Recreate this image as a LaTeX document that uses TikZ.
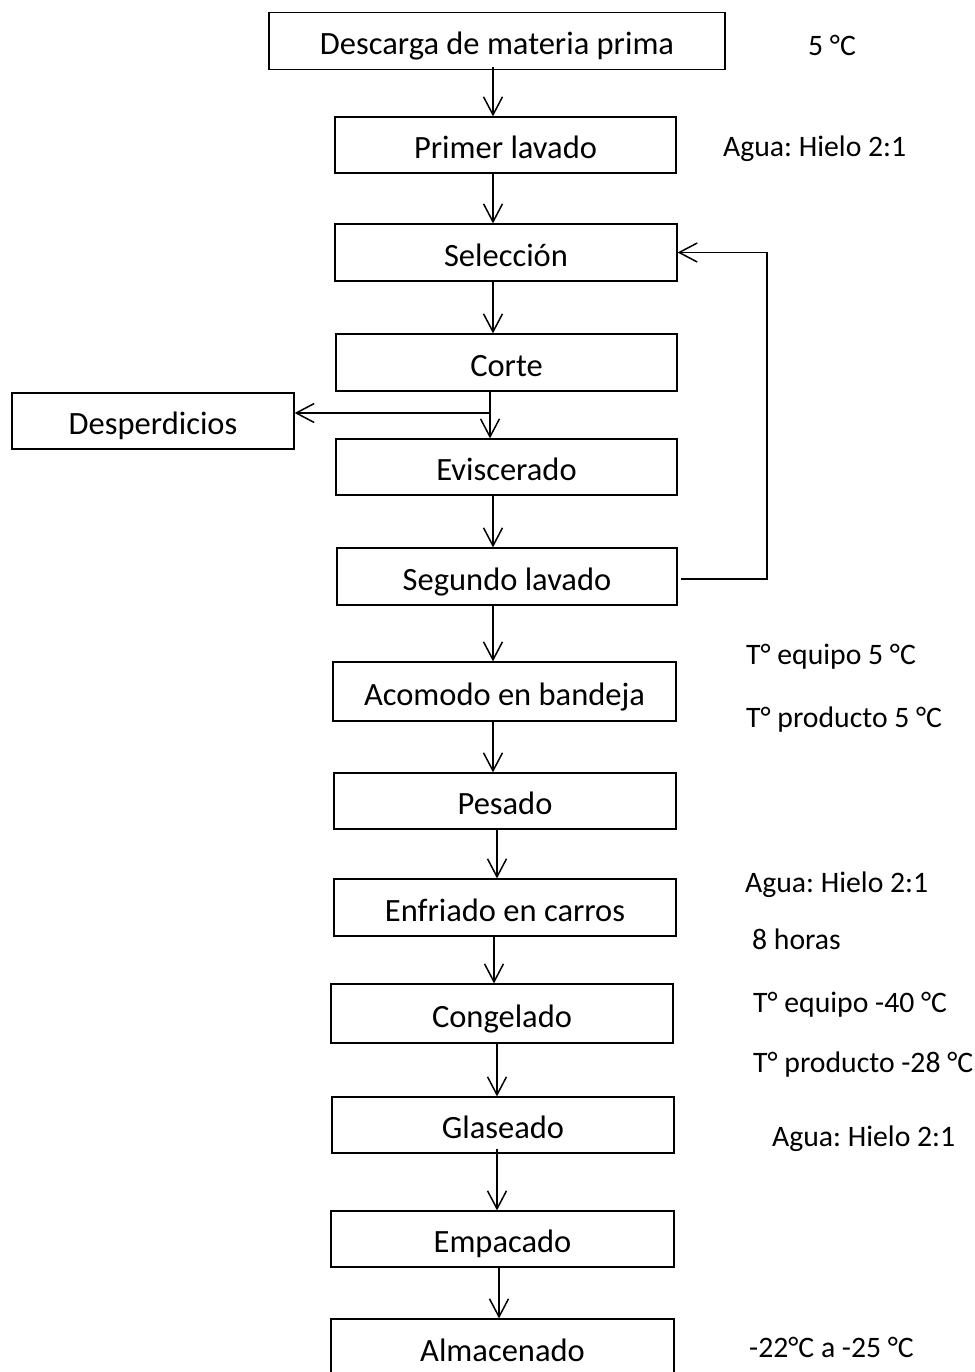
\documentclass[tikz,border=0pt]{standalone}
\usepackage{fontspec}
\setmainfont{Carlito}
\usetikzlibrary{arrows.meta}
\begin{document}
\begin{tikzpicture}[x=1pt,y=-1pt,
  box/.style={draw, line width=1.2pt, inner sep=0pt, align=center, text height=27pt, text depth=0pt, font=\fontsize{32.5}{38}\selectfont},
  lbl/.style={anchor=base west, inner sep=0pt, font=\fontsize{29.7}{35}\selectfont},
  arr/.style={line width=1.5pt, -{Straight Barb[length=18pt,width=19pt,line width=1.5pt]}},
  ln/.style={line width=1.5pt}]
\frenchspacing
\useasboundingbox (0,0) rectangle (974,1372);
% boxes
\node[box, minimum width=456pt, minimum height=57pt] (desc) at (497,41) {Descarga de materia prima};
\node[box, minimum width=341pt, minimum height=56pt] (prim) at (505.5,145) {Primer lavado};
\node[box, minimum width=342pt, minimum height=57pt] (sel) at (506,252.5) {Selección};
\node[box, minimum width=341pt, minimum height=57pt] (cor) at (506.5,362.5) {Corte};
\node[box, minimum width=282pt, minimum height=56pt] (des) at (153,421) {Desperdicios};
\node[box, minimum width=341pt, minimum height=56pt] (evi) at (506.5,467) {Eviscerado};
\node[box, minimum width=340pt, minimum height=57pt] (seg) at (507,576.5) {Segundo lavado};
\node[box, minimum width=343pt, minimum height=59pt] (aco) at (504.5,691.5) {Acomodo en bandeja};
\node[box, minimum width=342pt, minimum height=56pt] (pes) at (505,801) {Pesado};
\node[box, minimum width=342pt, minimum height=57pt] (enf) at (505,907.5) {Enfriado en carros};
\node[box, minimum width=342pt, minimum height=59pt] (con) at (502,1013.5) {Congelado};
\node[box, minimum width=342pt, minimum height=56pt] (gla) at (503,1125) {Glaseado};
\node[box, minimum width=343pt, minimum height=56pt] (emp) at (502.5,1239) {Empacado};
\node[box, minimum width=343pt, minimum height=57pt] (alm) at (502.5,1347.5) {Almacenado};
% arrow columns
\coordinate (a1) at (493,0);
\coordinate (a2) at (490,0);
\coordinate (a3) at (497,0);
\coordinate (a4) at (494,0);
\coordinate (a5) at (499,0);
\coordinate (fb) at (767,0);
\draw[arr] ([yshift=3pt]desc.south -| a1) -- (prim.north -| a1);
\draw[arr] (prim.south -| a1) -- (sel.north -| a1);
\draw[arr] (sel.south -| a1) -- (cor.north -| a1);
\draw[arr] ([yshift=2pt]cor.south -| a2) -- (evi.north -| a2);
\coordinate (br) at (490,413);
\draw[arr] (br) -- (br -| des.east);
\draw[arr] (evi.south -| a1) -- (seg.north -| a1);
\draw[arr] (seg.south -| a1) -- (aco.north -| a1);
\draw[arr] (aco.south -| a1) -- (pes.north -| a1);
\draw[arr] (pes.south -| a3) -- (enf.north -| a3);
\draw[arr] (enf.south -| a4) -- (con.north -| a4);
\draw[arr] (con.south -| a3) -- (gla.north -| a3);
\draw[arr] ([yshift=5pt]gla.south -| a3) -- (emp.north -| a3);
\draw[arr] (emp.south -| a5) -- (alm.north -| a5);
% feedback loop
\coordinate (fbs) at (681,579);
\draw[arr] (fbs) -- (fbs -| fb) |- (sel.east);
% labels
\node[lbl] (t1) at (808,55.5) {5 °C};
\node[lbl] (t2) at (723,156.5) {Agua: Hielo 2:1};
\node[lbl] (t3) at (746,664.5) {T° equipo 5 °C};
\node[lbl] (t4) at (746,727.5) {T° producto 5 °C};
\node[lbl] (t5) at (745,892.5) {Agua: Hielo 2:1};
\node[lbl] (t6) at (752,949.5) {8 horas};
\node[lbl] (t7) at (753,1012.5) {T° equipo -40 °C};
\node[lbl] (t8) at (753,1072.5) {T° producto -28 °C};
\node[lbl] (t9) at (772,1146.5) {Agua: Hielo 2:1};
\node[lbl] (t10) at (749,1357.5) {-22°C a -25 °C};
\end{tikzpicture}
\end{document}
